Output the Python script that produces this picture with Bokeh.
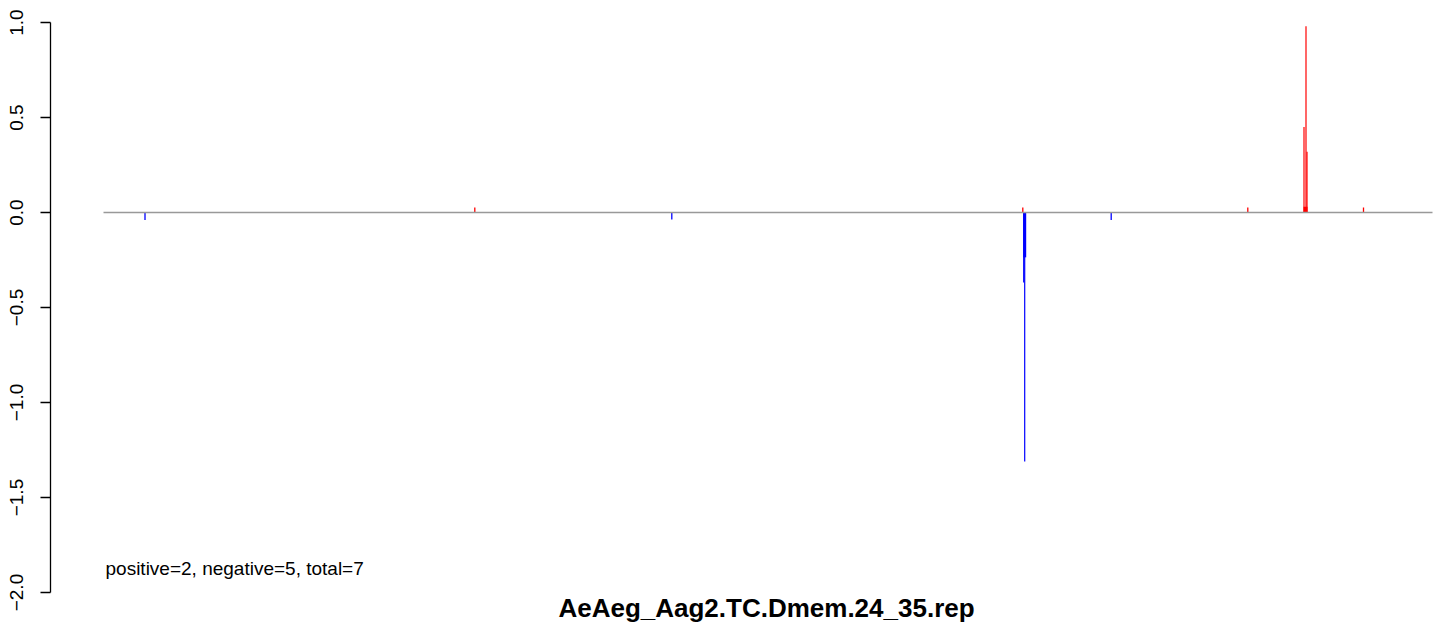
from bokeh.plotting import figure
from bokeh.models import Range1d, FixedTicker, Label
from bokeh.embed import file_html
from bokeh.resources import INLINE

# ---- data (positions in bin units along the sequence, values = signed scores) ----
seq_start = 0
seq_end = 1329

pos_positions = [371.3, 919.3, 1144.3, 1202.0, 1200.5, 1202.5, 1203.5, 1260.0]
pos_values    = [0.026, 0.026, 0.026, 0.030, 0.45, 0.98, 0.32, 0.026]
pos_widths    = [1.3, 1.3, 1.3, 4.0, 1.2, 1.2, 1.2, 1.3]

neg_positions = [41.5, 568.3, 1007.7, 921.2, 920.2, 921.2]
neg_values    = [-0.04, -0.037, -0.04, -0.236, -0.368, -1.31]
neg_widths    = [1.3, 1.3, 1.3, 3.0, 1.2, 1.2]

y_ticks = [-2.0, -1.5, -1.0, -0.5, 0.0, 0.5, 1.0]
y_tick_labels = ["\u22122.0", "\u22121.5", "\u22121.0", "\u22120.5", "0.0", "0.5", "1.0"]

summary_text = "positive=2, negative=5, total=7"
title_text = "AeAeg_Aag2.TC.Dmem.24_35.rep"

FONT = "Liberation Sans"

p = figure(width=1444, height=623, output_backend="svg", toolbar_location=None,
           x_range=Range1d(-53, 1341), y_range=Range1d(-2.163, 1.1158),
           min_border_left=50, min_border_right=0, min_border_top=0, min_border_bottom=0)
p.xaxis.visible = False
p.xgrid.visible = False
p.ygrid.visible = False
p.outline_line_color = None
p.background_fill_color = "white"
p.border_fill_color = "white"

ax = p.yaxis[0]
ax.ticker = FixedTicker(ticks=y_ticks)
ax.major_label_overrides = {t: l for t, l in zip(y_ticks, y_tick_labels)}
ax.bounds = (-2.0, 1.0)
ax.minor_tick_line_color = None
ax.major_tick_out = 10
ax.major_tick_in = 0
ax.major_label_orientation = "vertical"
ax.major_label_text_font = FONT
ax.major_label_text_font_size = "19px"
ax.major_label_text_color = "black"
ax.major_label_standoff = 17
ax.axis_line_color = "black"
ax.major_tick_line_color = "black"
ax.axis_line_width = 1.3
ax.major_tick_line_width = 1.3

p.vbar(x=neg_positions, top=0, bottom=neg_values, width=neg_widths,
       fill_color="#0000FF", line_color=None)
p.vbar(x=pos_positions, top=pos_values, bottom=0, width=pos_widths,
       fill_color="#FF0000", line_color=None)

p.segment(x0=[seq_start], y0=[0], x1=[seq_end], y1=[0], line_color="#999999", line_width=1.6)

p.add_layout(Label(x=2, y=-1.874, text=summary_text, text_font=FONT, text_font_size="19px",
                   text_baseline="middle", text_align="left", text_color="black"))
p.add_layout(Label(x=663, y=-2.08, text=title_text, text_font=FONT, text_font_size="26px",
                   text_font_style="bold", text_baseline="middle", text_align="center",
                   text_color="black"))

open("out.html", "w").write(file_html(p, INLINE))
